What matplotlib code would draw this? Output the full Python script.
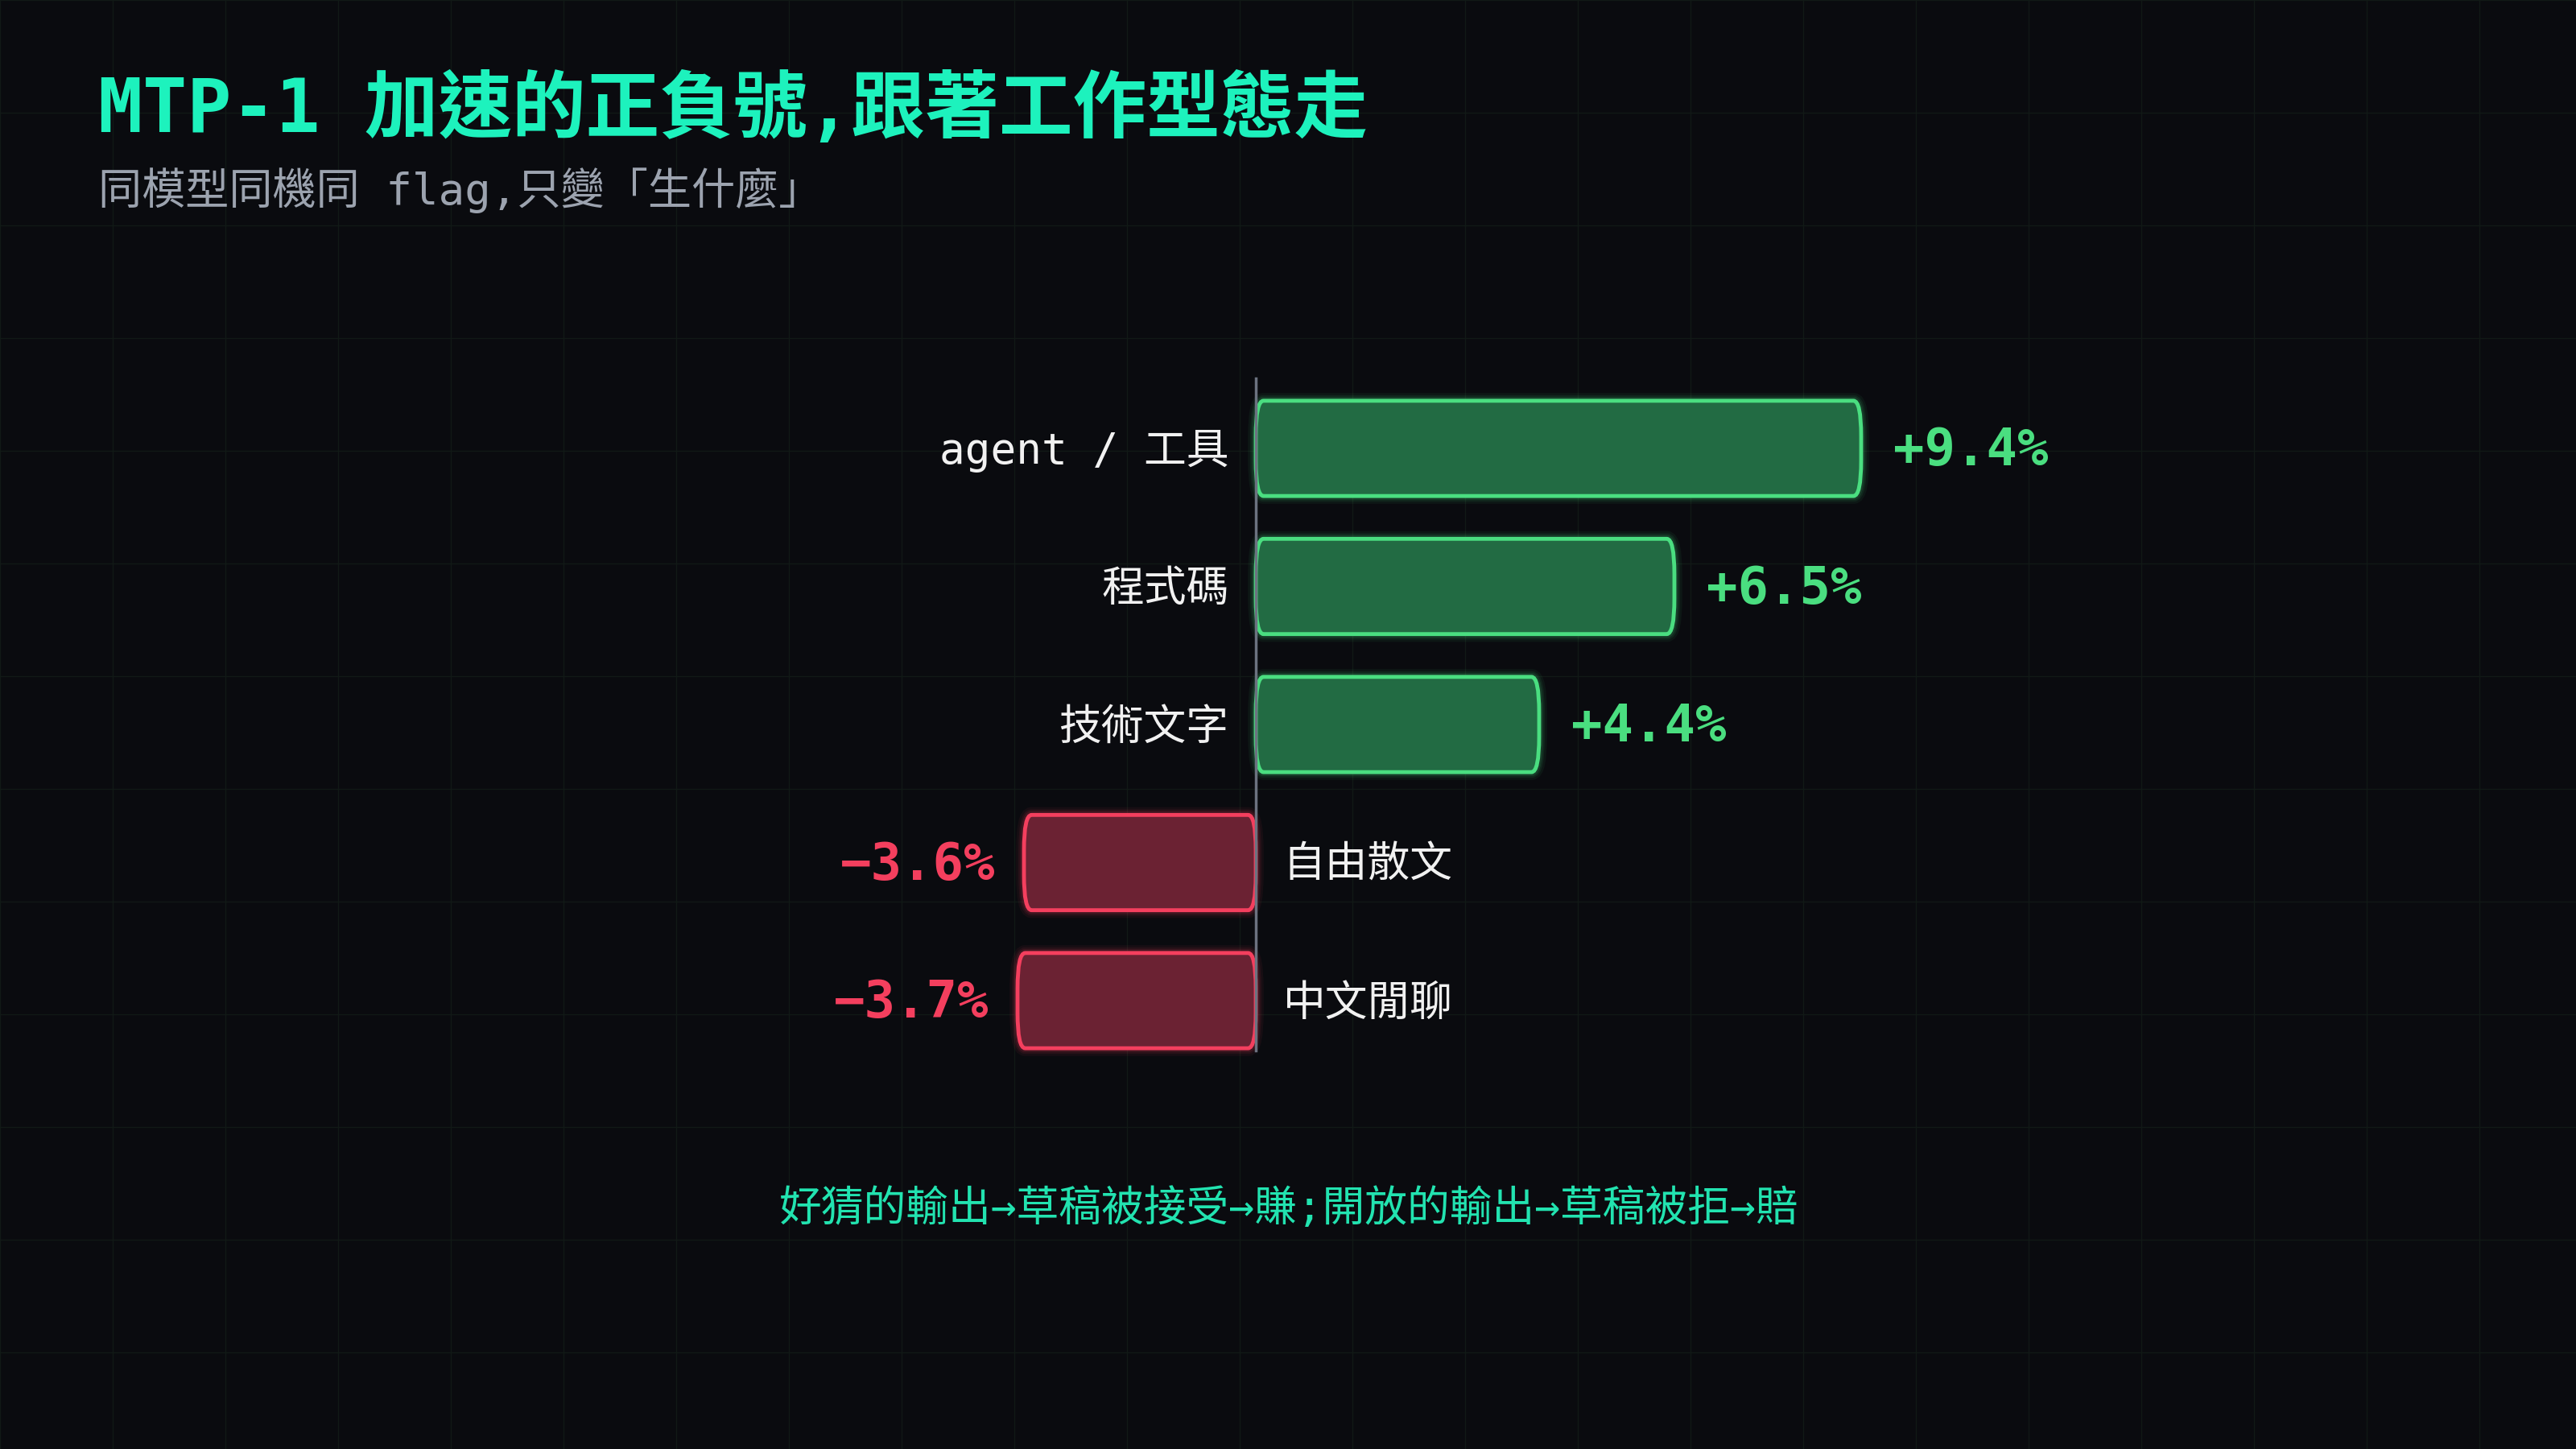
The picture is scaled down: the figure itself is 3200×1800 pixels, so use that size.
import matplotlib
matplotlib.use("Agg")
import matplotlib.pyplot as plt
from matplotlib.patches import FancyBboxPatch

categories = ["agent / 工具", "程式碼", "技術文字", "自由散文", "中文閒聊"]
values = [9.4, 6.5, 4.4, -3.6, -3.7]
value_labels = ["+9.4%", "+6.5%", "+4.4%", "−3.6%", "−3.7%"]
title = "MTP-1 加速的正負號,跟著工作型態走"
subtitle = "同模型同機同 flag,只變「生什麼」"
footer = "好猜的輸出→草稿被接受→賺;開放的輸出→草稿被拒→賠"

FAM = ["DejaVu Sans Mono", "Noto Sans CJK TC", "DejaVu Sans"]
BG = "#0a0b0f"
GREEN_E, GREEN_F = "#4ade80", "#226b43"
RED_E, RED_F = "#f43f5e", "#6b2233"

fig = plt.figure(figsize=(32, 18), dpi=100, facecolor=BG)

# background grid
bg = fig.add_axes([0, 0, 1, 1])
bg.set_xlim(0, 3200); bg.set_ylim(1800, 0); bg.axis("off")
for g in range(0, 3201, 140):
    bg.axvline(g, color="#111916", lw=1, zorder=0)
for g in range(0, 1801, 140):
    bg.axhline(g, color="#111916", lw=1, zorder=0)

ax = fig.add_axes([0, 0, 1, 1], facecolor="none")
ax.set_xlim(-1560 / 80, (3200 - 1560) / 80)
y0, step = 557, 171.5
ax.set_ylim((1800 - y0) / step, -y0 / step)
ax.axis("off")

h = 0.69
asp = 80 / step
for i, (c, v, lab) in enumerate(zip(categories, values, value_labels)):
    pos = v > 0
    ec, fc = (GREEN_E, GREEN_F) if pos else (RED_E, RED_F)
    x0 = 0 if pos else v
    for lw, a in [(14, 0.06), (10, 0.08), (7, 0.12)]:
        ax.add_patch(FancyBboxPatch((x0, i - h / 2), abs(v), h,
                     boxstyle="round,pad=0,rounding_size=0.12", mutation_aspect=1 / asp,
                     fc="none", ec=ec, lw=lw, alpha=a, zorder=2))
    ax.add_patch(FancyBboxPatch((x0, i - h / 2), abs(v), h,
                 boxstyle="round,pad=0,rounding_size=0.12", mutation_aspect=1 / asp,
                 fc=fc, ec=ec, lw=3.5, zorder=3))
    if pos:
        ax.text(-0.42, i + 0.02, c, ha="right", va="center", color="#f1f1f1", fontsize=38, family=FAM)
        ax.text(v + 0.5, i + 0.02, lab, ha="left", va="center", color=ec, fontsize=46,
                fontweight="bold", family=FAM)
    else:
        ax.text(0.42, i + 0.02, c, ha="left", va="center", color="#f1f1f1", fontsize=38, family=FAM)
        ax.text(v - 0.45, i + 0.02, lab, ha="right", va="center", color=ec, fontsize=46,
                fontweight="bold", family=FAM)

ax.plot([0, 0], [(470 - y0) / step, (1305 - y0) / step], color="#6b7280", lw=2.5, zorder=4)

fig.text(122 / 3200, 1 - 137 / 1800, title, ha="left", va="center", color="#1df2bd",
         fontsize=66, fontweight="bold", family=FAM)
fig.text(122 / 3200, 1 - 237 / 1800, subtitle, ha="left", va="center", color="#9ca3af",
         fontsize=39, family=FAM)
fig.text(0.5, 1 - 1502 / 1800, footer, ha="center", va="center", color="#22e3b0",
         fontsize=38, family=FAM)

fig.savefig("out.png", dpi=100, facecolor=BG)
